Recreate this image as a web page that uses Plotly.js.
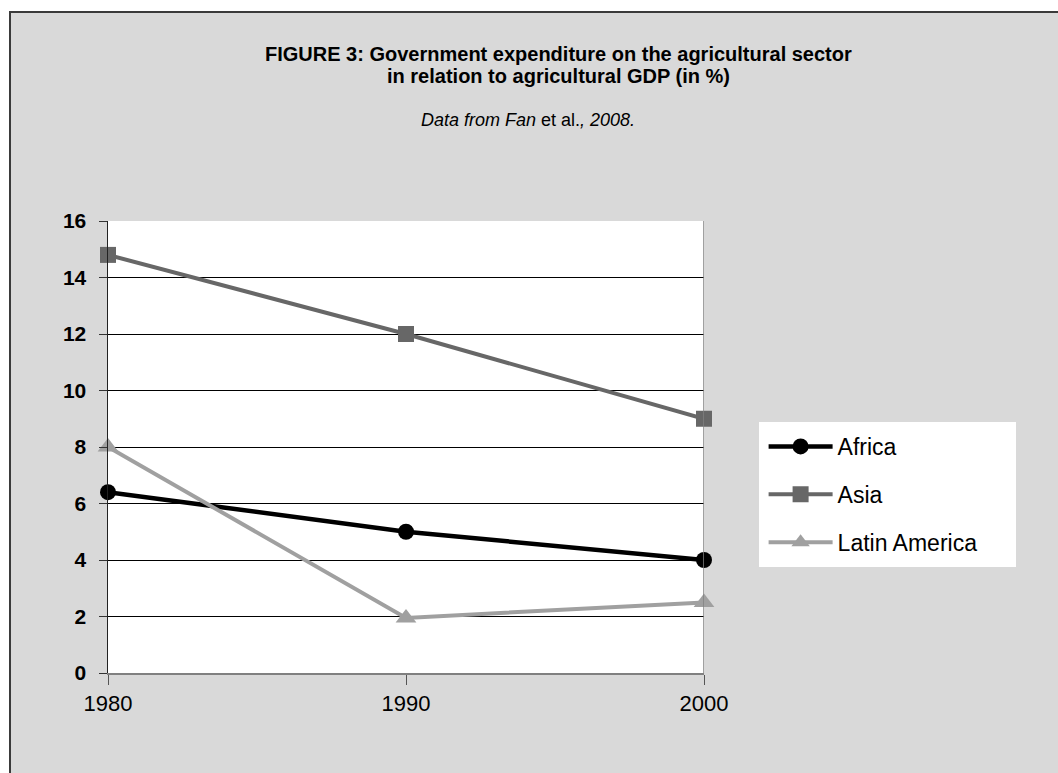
<!DOCTYPE html>
<html><head><meta charset="utf-8">
<script src="https://cdn.plot.ly/plotly-3.0.1.min.js"></script>
<style>
html,body{margin:0;padding:0;background:#fff;overflow:hidden;}
#frame{position:absolute;left:9px;top:11px;width:1060px;height:790px;background:#d9d9d9;border-left:2px solid #3a3a3a;border-top:2px solid #3a3a3a;}
#chart{position:absolute;left:0;top:0;width:1058px;height:773px;}
</style></head>
<body><div id="frame"></div><div id="chart"></div>
<script>
const years = [1980, 1990, 2000];
const africa = [6.4, 5.0, 4.0];
const asia = [14.8, 12.0, 9.0];
const latinAmerica = [8.0, 1.95, 2.5];
const seriesNames = ['Africa', 'Asia', 'Latin America'];
const yTicks = [0, 2, 4, 6, 8, 10, 12, 14, 16];
const titleLines = ['FIGURE 3: Government expenditure on the agricultural sector',
                    'in relation to agricultural GDP (in %)'];
const subtitle = '<i>Data from Fan</i> et al.<i>, 2008.</i>';

const FONT = 'Liberation Sans, Arial, sans-serif';

const traces = [
  {x: years, y: africa, name: seriesNames[0], legendgroup: 'g1', mode: 'lines+markers', cliponaxis: false,
   line: {color: '#000000', width: 4.5}, marker: {symbol: 'circle', size: 16, color: '#000000'}},
  {x: years, y: asia, name: seriesNames[1], legendgroup: 'g2', mode: 'lines+markers', cliponaxis: false,
   line: {color: '#676767', width: 4}, marker: {symbol: 'square', size: 16, color: '#676767'}},
  {x: years, y: latinAmerica, name: seriesNames[2], legendgroup: 'g3', mode: 'lines+markers', cliponaxis: false,
   line: {color: '#a0a0a0', width: 4}, marker: {symbol: 'triangle-up', size: 18, color: '#a0a0a0'}}
];

const layout = {
  width: 1058, height: 773,
  margin: {l: 108, r: 354, t: 221, b: 100},
  paper_bgcolor: 'rgba(0,0,0,0)',
  plot_bgcolor: '#ffffff',
  font: {family: FONT, color: '#000'},
  showlegend: true,
  legend: {
    x: 1.1, y: 0.5487, xanchor: 'left', yanchor: 'top',
    bgcolor: 'rgba(0,0,0,0)', borderwidth: 0,
    font: {family: FONT, size: 23, color: '#000'},
    itemwidth: 64, tracegroupgap: 15, traceorder: 'grouped'
  },
  xaxis: {
    range: [1980, 2000], tickvals: years, ticktext: years.map(String),
    showgrid: false, zeroline: false,
    showline: true, linecolor: '#808080', linewidth: 1.5,
    ticks: 'outside', ticklen: 10, tickcolor: '#555', tickwidth: 1,
    ticklabelstandoff: 0,
    tickfont: {family: FONT, size: 22, color: '#000'}
  },
  yaxis: {
    range: [0, 16], tickvals: yTicks,
    showgrid: true, gridcolor: '#000000', gridwidth: 1, zeroline: false,
    showline: true, linecolor: '#222', linewidth: 1.5,
    ticks: 'outside', ticklen: 8, tickcolor: '#333', tickwidth: 1,
    ticklabelstandoff: 8,
    tickfont: {family: FONT, size: 21, color: '#000', weight: 'bold'}
  },
  shapes: [
    {type: 'line', xref: 'x', yref: 'y', x0: 2000, x1: 2000, y0: 0, y1: 16,
     line: {color: '#808080', width: 1.5}},
    {type: 'rect', xref: 'paper', yref: 'paper', x0: 1.0923, x1: 1.5235, y0: 0.2345, y1: 0.5553,
     fillcolor: '#ffffff', line: {width: 0}, layer: 'above'}
  ],
  annotations: [
    {text: titleLines[0], xref: 'paper', yref: 'paper', x: 0.7567, y: 1.3695, xanchor: 'center', yanchor: 'middle',
     showarrow: false, font: {family: FONT, size: 20, color: '#000', weight: 'bold'}},
    {text: titleLines[1], xref: 'paper', yref: 'paper', x: 0.7567, y: 1.3208, xanchor: 'center', yanchor: 'middle',
     showarrow: false, font: {family: FONT, size: 20, color: '#000', weight: 'bold'}},
    {text: subtitle, xref: 'paper', yref: 'paper', x: 0.7047, y: 1.2235, xanchor: 'center', yanchor: 'middle',
     showarrow: false, font: {family: FONT, size: 18, color: '#000'}}
  ]
};

Plotly.newPlot('chart', traces, layout, {displayModeBar: false, staticPlot: true});
</script>
</body></html>
